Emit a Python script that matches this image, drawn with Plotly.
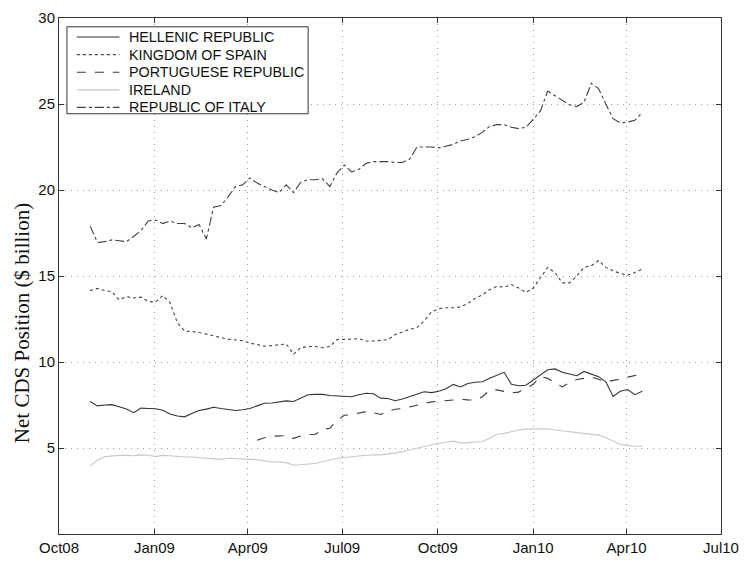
import pandas as pd
import plotly.graph_objects as go

# weekly observations, 31 Oct 2008 - 16 Apr 2010
dates = pd.date_range('2008-10-31', '2010-04-16', freq='7D')

italy = [17.9, 16.95, 17.0, 17.1, 17.05, 17.0, 17.3, 17.65, 18.2, 18.25,
         18.05, 18.2, 18.05, 18.05, 17.8, 18.0, 17.15, 19.0, 19.1, 19.6,
         20.2, 20.3, 20.7, 20.4, 20.2, 20.0, 19.85, 20.3, 19.85, 20.45,
         20.6, 20.6, 20.65, 20.2, 21.0, 21.45, 21.05, 21.2, 21.55, 21.65,
         21.65, 21.65, 21.6, 21.6, 21.8, 22.5, 22.5, 22.5, 22.45, 22.55,
         22.65, 22.85, 22.95, 23.1, 23.35, 23.7, 23.8, 23.8, 23.65, 23.57,
         23.65, 24.1, 24.6, 25.75, 25.5, 25.2, 24.95, 24.85, 25.1, 26.2,
         25.9, 25.0, 24.15, 23.9, 23.95, 24.05, 24.5]

spain = [14.15, 14.28, 14.15, 14.08, 13.62, 13.8, 13.72, 13.77, 13.52, 13.48,
         13.86, 13.45, 12.3, 11.8, 11.77, 11.72, 11.62, 11.5, 11.42, 11.33,
         11.28, 11.24, 11.1, 11.0, 10.92, 10.95, 10.98, 11.05, 10.45, 10.83,
         10.9, 10.9, 10.83, 10.9, 11.3, 11.3, 11.33, 11.36, 11.22, 11.22,
         11.24, 11.3, 11.6, 11.75, 11.9, 12.0, 12.4, 12.9, 13.1, 13.15,
         13.15, 13.2, 13.4, 13.7, 13.9, 14.2, 14.4, 14.35, 14.5, 14.3,
         14.05, 14.3, 14.9, 15.5, 15.2, 14.6, 14.6, 15.0, 15.5, 15.6,
         15.9, 15.5, 15.3, 15.15, 15.05, 15.2, 15.4]

greece = [7.7, 7.45, 7.5, 7.52, 7.4, 7.27, 7.05, 7.32, 7.3, 7.28,
          7.2, 6.98, 6.86, 6.81, 7.0, 7.18, 7.26, 7.37, 7.3, 7.25,
          7.18, 7.22, 7.3, 7.45, 7.6, 7.62, 7.66, 7.74, 7.7, 7.9,
          8.1, 8.12, 8.12, 8.05, 8.02, 8.0, 7.98, 8.1, 8.18, 8.15,
          7.9, 7.88, 7.75, 7.85, 7.98, 8.1, 8.27, 8.22, 8.3, 8.45,
          8.7, 8.55, 8.75, 8.82, 8.85, 9.06, 9.25, 9.4, 8.7, 8.62,
          8.65, 8.95, 9.25, 9.55, 9.6, 9.4, 9.3, 9.2, 9.45, 9.3,
          9.15, 8.85, 8.0, 8.3, 8.4, 8.1, 8.3]

# Portugal series only begins in April 2009
portugal = [None] * 23 + [
    5.45, 5.6, 5.68, 5.72, 5.72, 5.56, 5.7, 5.78, 5.8, 6.08,
    6.15, 6.6, 6.9, 6.94, 7.05, 7.12, 7.05, 6.95, 7.15, 7.25,
    7.3, 7.4, 7.5, 7.62, 7.68, 7.72, 7.76, 7.8, 7.83, 7.8,
    7.78, 7.98, 8.36, 8.38, 8.3, 8.2, 8.25, 8.5, 8.7, 9.15,
    9.05, 8.8, 8.55, 8.8, 8.98, 9.05, 9.12, 9.0, 8.83, 8.93,
    9.0, 9.12, 9.2, 9.3]

ireland = [3.95, 4.3, 4.5, 4.55, 4.57, 4.57, 4.55, 4.6, 4.58, 4.5,
           4.57, 4.55, 4.5, 4.48, 4.48, 4.45, 4.4, 4.35, 4.34, 4.4,
           4.38, 4.35, 4.33, 4.32, 4.25, 4.19, 4.2, 4.15, 4.0, 4.04,
           4.05, 4.1, 4.2, 4.3, 4.4, 4.45, 4.5, 4.55, 4.58, 4.6,
           4.6, 4.66, 4.7, 4.8, 4.9, 5.0, 5.1, 5.2, 5.28, 5.33,
           5.4, 5.3, 5.3, 5.35, 5.38, 5.55, 5.8, 5.85, 5.96, 6.05,
           6.1, 6.12, 6.12, 6.12, 6.05, 6.0, 5.95, 5.9, 5.85, 5.8,
           5.75, 5.6, 5.4, 5.2, 5.15, 5.1, 5.1]

tick_dates = ['2008-10-01', '2009-01-01', '2009-04-01', '2009-07-01',
              '2009-10-01', '2010-01-01', '2010-04-01', '2010-07-01']
tick_labels = ['Oct08', 'Jan09', 'Apr09', 'Jul09', 'Oct09', 'Jan10', 'Apr10', 'Jul10']
y_ticks = [5, 10, 15, 20, 25, 30]

series = [
    ('HELLENIC REPUBLIC', greece, '#333333', 'solid'),
    ('KINGDOM OF SPAIN', spain, '#444444', 'dot'),
    ('PORTUGUESE REPUBLIC', portugal, '#3a3a3a', 'dash'),
    ('IRELAND', ireland, '#c8c8c8', 'solid'),
    ('REPUBLIC OF ITALY', italy, '#404040', 'dashdot'),
]

W, H = 748, 565
L, R, T, B = 59, 22, 9, 28
pw, ph = W - L - R, H - T - B


def px(x):
    return (x - L) / pw


def py(y):
    return (H - B - y) / ph


fig = go.Figure()
for name, vals, color, dash in series:
    fig.add_trace(go.Scatter(
        x=dates, y=vals, mode='lines', name=name,
        line=dict(color=color, width=1.1, dash=dash),
        connectgaps=False
    ))

# MATLAB-style legend box drawn by hand so the row spacing matches
shapes = [dict(type='rect', xref='paper', yref='paper',
               x0=px(67), x1=px(310), y0=py(107), y1=py(18),
               line=dict(color='#333', width=1), fillcolor='white', layer='above')]
annotations = []
for k, (name, vals, color, dash) in enumerate(series):
    yy = py(28.5 + 18 * k)
    shapes.append(dict(type='line', xref='paper', yref='paper',
                       x0=px(77), x1=px(120), y0=yy, y1=yy, layer='above',
                       line=dict(color=color, width=1.1, dash=dash)))
    annotations.append(dict(text=name, xref='paper', yref='paper', x=px(128), y=yy,
                            xanchor='left', yanchor='middle', showarrow=False,
                            font=dict(family='Liberation Sans, Arial', size=14.3, color='#111')))

annotations.append(dict(text='Net CDS Position ($ billion)', xref='paper', yref='paper',
                        x=px(22), y=py(321), textangle=-90, showarrow=False,
                        xanchor='center', yanchor='middle',
                        font=dict(family='Liberation Serif, Times New Roman', size=21, color='#111')))

axis_style = dict(
    showline=True, linecolor='#333', linewidth=1, mirror='ticks',
    ticks='inside', ticklen=5, tickcolor='#333',
    showgrid=True, gridcolor='#9a9a9a', griddash='1px,5px', gridwidth=1,
    zeroline=False,
    tickfont=dict(family='Liberation Sans, Arial', size=15, color='#111')
)

fig.update_layout(
    width=W, height=H,
    margin=dict(l=L, r=R, t=T, b=B),
    plot_bgcolor='white', paper_bgcolor='white',
    xaxis=dict(range=['2008-10-01', '2010-07-01'], tickvals=tick_dates,
               ticktext=tick_labels, **axis_style),
    yaxis=dict(range=[0, 30], tickvals=y_ticks, **axis_style),
    shapes=shapes,
    annotations=annotations,
    showlegend=False
)

fig.write_html('out.html', config={'displayModeBar': False},
               post_script="document.body.style.margin='0px';")
